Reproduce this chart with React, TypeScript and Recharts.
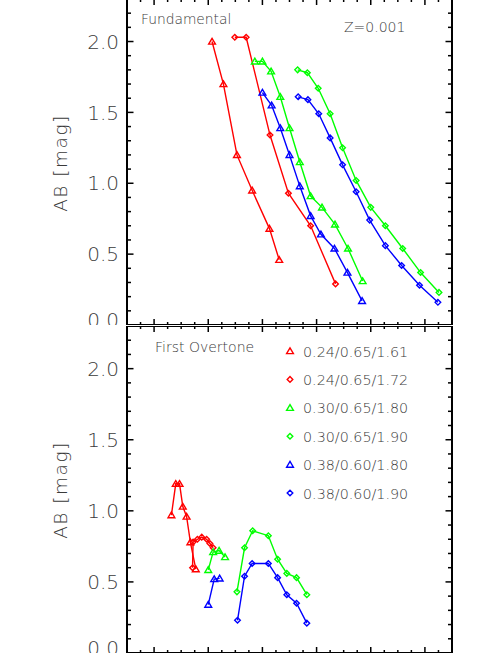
import React from "react";
import { Legend, Line, LineChart, XAxis, YAxis } from "recharts";

// model labels (shown in the legend) and their plotting styles
const seriesNames = [
  "0.24/0.65/1.61",
  "0.24/0.65/1.72",
  "0.30/0.65/1.80",
  "0.30/0.65/1.90",
  "0.38/0.60/1.80",
  "0.38/0.60/1.90"
];
const seriesColors = ["#ff0000", "#ff0000", "#00ff00", "#00ff00", "#0000ff", "#0000ff"];
const seriesMarkers = ["triangle", "diamond", "triangle", "diamond", "triangle", "diamond"];

// Fundamental mode
const fundX1 = [1.07, 1.28, 1.53, 1.81, 2.13, 2.31];
const fundY1 = [2.0, 1.7, 1.2, 0.95, 0.68, 0.46];
const fundX2 = [1.49, 1.7, 2.14, 2.48, 2.89, 3.35];
const fundY2 = [2.03, 2.03, 1.34, 0.93, 0.7, 0.29];
const fundX3 = [1.86, 2.0, 2.16, 2.33, 2.5, 2.69, 2.89, 3.1, 3.34, 3.58, 3.85];
const fundY3 = [1.86, 1.86, 1.79, 1.61, 1.39, 1.15, 0.91, 0.83, 0.71, 0.54, 0.31];
const fundX4 = [2.65, 2.83, 3.03, 3.25, 3.48, 3.73, 4.0, 4.27, 4.59, 4.92, 5.26];
const fundY4 = [1.8, 1.78, 1.67, 1.49, 1.25, 1.02, 0.83, 0.7, 0.54, 0.37, 0.23];
const fundX5 = [2.0, 2.17, 2.33, 2.5, 2.69, 2.89, 3.08, 3.33, 3.57, 3.84];
const fundY5 = [1.64, 1.55, 1.39, 1.2, 0.98, 0.77, 0.64, 0.54, 0.37, 0.17];
const fundX6 = [2.66, 2.84, 3.04, 3.25, 3.48, 3.73, 3.98, 4.27, 4.57, 4.9, 5.24];
const fundY6 = [1.61, 1.59, 1.49, 1.32, 1.13, 0.94, 0.74, 0.56, 0.42, 0.28, 0.16];

// First overtone
const otX1 = [0.32, 0.4, 0.47, 0.53, 0.6, 0.67, 0.77];
const otY1 = [0.97, 1.19, 1.19, 1.03, 0.96, 0.78, 0.59];
const otX2 = [0.71, 0.72, 0.8, 0.88, 0.97, 1.03, 1.09];
const otY2 = [0.6, 0.78, 0.8, 0.815, 0.8, 0.77, 0.74];
const otX3 = [1.0, 1.09, 1.2, 1.31];
const otY3 = [0.585, 0.71, 0.72, 0.675];
const otX4 = [1.53, 1.67, 1.82, 2.11, 2.28, 2.45, 2.63, 2.82];
const otY4 = [0.43, 0.74, 0.86, 0.825, 0.66, 0.56, 0.53, 0.41];
const otX5 = [1.0, 1.11, 1.21];
const otY5 = [0.34, 0.52, 0.525];
const otX6 = [1.54, 1.67, 1.81, 2.11, 2.28, 2.45, 2.63, 2.82];
const otY6 = [0.23, 0.54, 0.63, 0.63, 0.53, 0.41, 0.35, 0.21];

// axis ticks
const xMajor = [0, 1, 2, 3, 4, 5];
const xTicks = [
  -0.25, 0, 0.25, 0.5, 0.75, 1, 1.25, 1.5, 1.75, 2, 2.25, 2.5, 2.75, 3, 3.25,
  3.5, 3.75, 4, 4.25, 4.5, 4.75, 5, 5.25
];
const yMajor = [0, 0.5, 1, 1.5, 2];
const yTicks = [
  0, 0.1, 0.2, 0.3, 0.4, 0.5, 0.6, 0.7, 0.8, 0.9, 1, 1.1, 1.2, 1.3, 1.4, 1.5,
  1.6, 1.7, 1.8, 1.9, 2, 2.1, 2.2
];

const X_DOMAIN: [number, number] = [-0.5, 5.5];
const Y_DOMAIN: [number, number] = [0, 2.3];

const W = 491;
const MARGIN_L = 127;
const MARGIN_R = 39;
const PLOT_W = W - MARGIN_L - MARGIN_R;

const FONT = "'DejaVu Sans', 'Liberation Sans', sans-serif";
const INK = "#3a3a3a";
const WEIGHT = 200;
const AXIS = { stroke: "#000", strokeWidth: 2 };

const toRows = (xs: number[], ys: number[]) => xs.map((x, i) => ({ x, y: ys[i] }));

const fundamental = [
  toRows(fundX1, fundY1),
  toRows(fundX2, fundY2),
  toRows(fundX3, fundY3),
  toRows(fundX4, fundY4),
  toRows(fundX5, fundY5),
  toRows(fundX6, fundY6)
];
const overtone = [
  toRows(otX1, otY1),
  toRows(otX2, otY2),
  toRows(otX3, otY3),
  toRows(otX4, otY4),
  toRows(otX5, otY5),
  toRows(otX6, otY6)
];

function Marker({ shape, cx, cy, color }: any) {
  const d =
    shape === "triangle"
      ? `M${cx},${cy - 3.2}L${cx + 3.4},${cy + 2.6}L${cx - 3.4},${cy + 2.6}Z`
      : `M${cx},${cy - 2.8}L${cx + 2.8},${cy}L${cx},${cy + 2.8}L${cx - 2.8},${cy}Z`;
  return <path d={d} fill="none" stroke={color} strokeWidth={1.4} />;
}

const dotFor = (shape: string, color: string) => (p: any) => {
  if (p.cx == null || p.cy == null) return <g key={`d-${p.index}`} />;
  return <Marker key={`d-${p.index}`} shape={shape} cx={p.cx} cy={p.cy} color={color} />;
};

// inward ticks on bottom and top of the frame
function XTick({ x, y, payload, plotH }: any) {
  const len = xMajor.includes(payload.value) ? 6 : 3;
  return (
    <g stroke="#000" strokeWidth={1.5}>
      <line x1={x} x2={x} y1={y} y2={y - len} />
      <line x1={x} x2={x} y1={y - plotH} y2={y - plotH + len} />
    </g>
  );
}

// inward ticks on left and right, labels outside on the left;
// the 0.0 label is nudged up like the original
function YTick({ x, y, payload }: any) {
  const v = payload.value as number;
  const major = yMajor.includes(v);
  const len = major ? 6.5 : 4;
  return (
    <g>
      <line x1={x} x2={x + len} y1={y} y2={y} stroke="#000" strokeWidth={1.5} />
      <line x1={x + PLOT_W} x2={x + PLOT_W - len} y1={y} y2={y} stroke="#000" strokeWidth={1.5} />
      {major && (
        <text
          x={x - 8}
          y={y + (v === 0 ? -5 : 0)}
          dy="0.36em"
          textAnchor="end"
          fontSize={20}
          fontFamily={FONT}
          fontWeight={WEIGHT}
          fill={INK}
        >
          {v.toFixed(1)}
        </text>
      )}
    </g>
  );
}

function LegendBox({ payload }: any) {
  return (
    <svg width={190} height={170} style={{ display: "block" }}>
      {(payload || []).map((e: any, i: number) => {
        const k = seriesNames.indexOf(e.value);
        const yc = 12 + i * 28.4;
        return (
          <g key={e.value}>
            <Marker shape={seriesMarkers[k]} cx={10} cy={yc} color={seriesColors[k]} />
            <text x={23} y={yc + 5.5} fontSize={14.3} fontFamily={FONT} fontWeight={WEIGHT} fill={INK}>
              {e.value}
            </text>
          </g>
        );
      })}
    </svg>
  );
}

function Panel({ series, height, margin, labelY, withLegend, children }: any) {
  const plotH = height - margin.top - margin.bottom;
  return (
    <LineChart width={W} height={height} margin={margin}>
      <XAxis
        xAxisId="x"
        type="number"
        dataKey="x"
        domain={X_DOMAIN}
        ticks={xTicks}
        orientation="bottom"
        mirror
        height={0.01}
        tickSize={0}
        tickMargin={0}
        tick={<XTick plotH={plotH} />}
        interval={0}
        axisLine={AXIS}
        tickLine={false}
      />
      <XAxis xAxisId="xt" type="number" dataKey="x" domain={X_DOMAIN} orientation="top" mirror height={0.01} tick={false} tickLine={false} axisLine={AXIS} />
      <YAxis
        yAxisId="y"
        type="number"
        domain={Y_DOMAIN}
        ticks={yTicks}
        orientation="left"
        mirror
        width={0.01}
        tickSize={0}
        tickMargin={0}
        tick={<YTick />}
        interval={0}
        axisLine={AXIS}
        tickLine={false}
      />
      <YAxis yAxisId="yr" type="number" domain={Y_DOMAIN} orientation="right" mirror width={0.01} tick={false} tickLine={false} axisLine={AXIS} />
      {series.map((rows: any[], i: number) => (
        <Line
          key={seriesNames[i]}
          name={seriesNames[i]}
          data={rows}
          dataKey="y"
          xAxisId="x"
          yAxisId="y"
          type="linear"
          stroke={seriesColors[i]}
          strokeWidth={1.4}
          dot={dotFor(seriesMarkers[i], seriesColors[i])}
          activeDot={false}
          isAnimationActive={false}
        />
      ))}
      {withLegend && (
        <Legend
          layout="vertical"
          align="center"
          verticalAlign="middle"
          wrapperStyle={{ position: "absolute", left: 280, top: 12.7, width: 190 }}
          content={(p: any) => <LegendBox payload={p.payload} />}
        />
      )}
      <text
        x={67}
        y={labelY}
        transform={`rotate(-90, 67, ${labelY})`}
        textAnchor="middle"
        fontSize={18.5}
        fontFamily={FONT}
        fontWeight={WEIGHT}
        fill={INK}
        letterSpacing={1.5}
      >
        AB [mag]
      </text>
      {children}
    </LineChart>
  );
}

export default function App() {
  return (
    <div
      style={{
        position: "absolute",
        left: 0,
        top: 0,
        width: W,
        height: 653,
        overflow: "hidden",
        background: "#fff",
        fontFamily: FONT
      }}
    >
      <div style={{ position: "absolute", left: 0, top: -10 }}>
        <Panel series={fundamental} height={335} margin={{ top: 9, right: MARGIN_R, bottom: 0, left: MARGIN_L }} labelY={173}>
          <text x={141} y={34} fontSize={13.8} fontFamily={FONT} fontWeight={WEIGHT} fill={INK}>
            Fundamental
          </text>
          <text x={344} y={42} fontSize={14} fontFamily={FONT} fontWeight={WEIGHT} fill={INK}>
            Z=0.001
          </text>
        </Panel>
      </div>
      <div style={{ position: "absolute", left: 0, top: 326, background: "#fff" }}>
        <Panel series={overtone} height={337} margin={{ top: 0, right: MARGIN_R, bottom: 10, left: MARGIN_L }} labelY={164} withLegend>
          <text x={155} y={25.7} fontSize={14} fontFamily={FONT} fontWeight={WEIGHT} fill={INK}>
            First Overtone
          </text>
        </Panel>
      </div>
    </div>
  );
}
